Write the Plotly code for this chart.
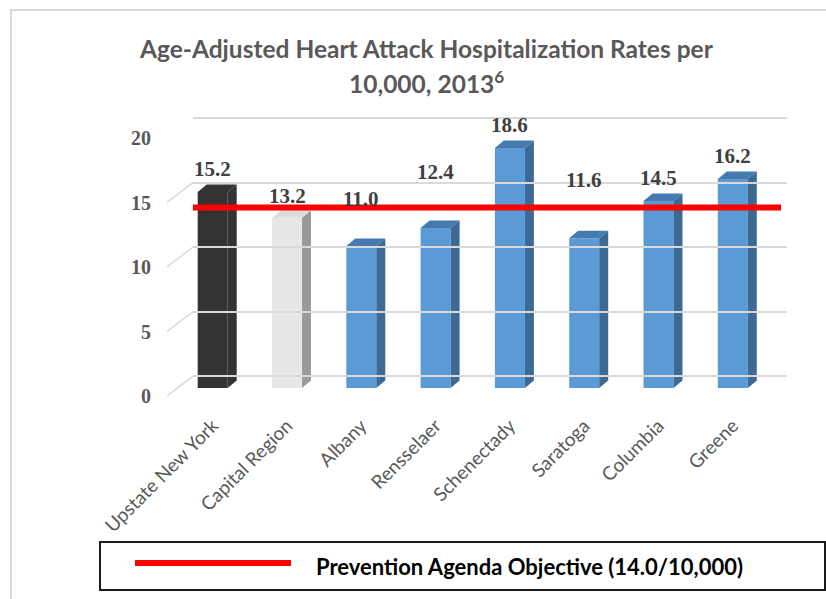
import plotly.graph_objects as go

# ---------------- data ----------------
categories = ["Upstate New York", "Capital Region", "Albany", "Rensselaer",
              "Schenectady", "Saratoga", "Columbia", "Greene"]
rates = [15.2, 13.2, 11.0, 12.4, 18.6, 11.6, 14.5, 16.2]
objective = 14.0
objective_label = "Prevention Agenda Objective (14.0/10,000)"
y_ticks = [0, 5, 10, 15, 20]
title_line1 = "Age-Adjusted Heart Attack Hospitalization Rates per"
title_line2 = "10,000, 2013<sup>6</sup>"

# ---------------- style ----------------
W, H = 826, 599
front_colors = ["#333333", "#e7e7e7"] + ["#5b9bd5"] * 6
side_colors = ["#333333", "#9a9a9a"] + ["#3c6a95"] * 6
top_colors = ["#333333", "#dcdcdc"] + ["#4679ad"] * 6
label_lift_px = [23, 22, 47, 56, 23, 58, 23, 23]   # manual label placement above bars

PX_PER_UNIT = 12.9
CAT_PX = 74.3
FIRST_CAT_PX = 212.7
BAR_ZERO_PX = 388
BACK_ZERO_PX = 376
FRONT_ZERO_PX = 396
BAR_W = 30 / CAT_PX
DX = 9 / CAT_PX
DY = 7.5 / PX_PER_UNIT
YMAX = 20
GRID_PAD = 0.6


def xf(px):
    return px / W


def ydom(zero_px, r0=0.0, r1=YMAX):
    bottom = zero_px - r0 * PX_PER_UNIT
    top = zero_px - r1 * PX_PER_UNIT
    return [1 - bottom / H, 1 - top / H]


fig = go.Figure()

# invisible anchor so that the back-wall subplot exists
fig.add_trace(go.Scatter(x=[0.5], y=[10], mode="markers", opacity=0,
                         xaxis="x2", yaxis="y2", hoverinfo="skip", showlegend=False))

# slanted side grid segments from front tick to back wall
depth_units = (FRONT_ZERO_PX - BACK_ZERO_PX) / PX_PER_UNIT
sx, sy = [], []
for t in y_ticks:
    sx += [0, 1, None]
    sy += [t, t + depth_units, None]
fig.add_trace(go.Scatter(
    x=sx, y=sy, mode="lines", line=dict(color="#d9d9d9", width=1.5),
    xaxis="x3", yaxis="y3", hoverinfo="skip", showlegend=False))

# front faces
fig.add_trace(go.Bar(
    x=list(range(len(categories))), y=rates, width=BAR_W,
    marker=dict(color=front_colors, line=dict(width=0)),
    xaxis="x", yaxis="y", hoverinfo="skip", showlegend=False))

# side and top faces (3-D look)
for i, v in enumerate(rates):
    xl, xr = i - BAR_W / 2, i + BAR_W / 2
    fig.add_trace(go.Scatter(
        x=[xr, xr + DX, xr + DX, xr, xr], y=[0, DY, v + DY, v, 0],
        fill="toself", fillcolor=side_colors[i], mode="lines",
        line=dict(width=0, color=side_colors[i]),
        xaxis="x", yaxis="y", hoverinfo="skip", showlegend=False))
    fig.add_trace(go.Scatter(
        x=[xl, xl + DX, xr + DX, xr, xl], y=[v, v + DY, v + DY, v, v],
        fill="toself", fillcolor=top_colors[i], mode="lines",
        line=dict(width=0, color=top_colors[i]),
        xaxis="x", yaxis="y", hoverinfo="skip", showlegend=False))

# objective line (across the back wall width, on the bar value scale)
fig.add_trace(go.Scatter(
    x=[0, 0.99], y=[objective, objective], mode="lines",
    line=dict(color="#ff0000", width=6),
    xaxis="x2", yaxis="y", hoverinfo="skip", showlegend=False))

# value labels
for i, v in enumerate(rates):
    fig.add_annotation(
        x=i, y=v, xref="x", yref="y", text=f"<b>{v:.1f}</b>", showarrow=False,
        yanchor="middle", yshift=label_lift_px[i],
        font=dict(family="Liberation Serif", size=21, color="#404040"))

hidden_x = dict(showgrid=False, zeroline=False, showline=False,
                showticklabels=False, ticks="", range=[0, 1], fixedrange=True,
                automargin=False)

n = len(categories)
fig.update_layout(
    width=W, height=H, margin=dict(l=0, r=0, t=0, b=0, pad=0, autoexpand=False),
    paper_bgcolor="white", plot_bgcolor="rgba(0,0,0,0)",
    showlegend=False,
    xaxis=dict(domain=[0, 1], range=[-FIRST_CAT_PX / CAT_PX, (W - FIRST_CAT_PX) / CAT_PX],
               tickmode="array", tickvals=list(range(n)), ticktext=categories,
               tickangle=-45, showgrid=False, zeroline=False, showline=False,
               ticks="", ticklabelstandoff=22, anchor="y", automargin=False,
               tickfont=dict(family="Lato", size=19, color="#595959")),
    yaxis=dict(domain=ydom(BAR_ZERO_PX), range=[0, YMAX], visible=False,
               anchor="x", automargin=False),
    xaxis2=dict(domain=[xf(193), xf(787)], anchor="y2", **hidden_x),
    yaxis2=dict(domain=ydom(BACK_ZERO_PX, -GRID_PAD, YMAX + GRID_PAD),
                range=[-GRID_PAD, YMAX + GRID_PAD], tickmode="array", tickvals=y_ticks,
                showgrid=True, gridcolor="#d9d9d9", gridwidth=1.5,
                zeroline=False, showline=False, showticklabels=False,
                ticks="", anchor="x2", automargin=False),
    xaxis3=dict(domain=[xf(167), xf(193)], anchor="y3", **hidden_x),
    yaxis3=dict(domain=ydom(FRONT_ZERO_PX), range=[0, YMAX], tickmode="array",
                tickvals=y_ticks, ticktext=[f"<b>{t}</b>" for t in y_ticks],
                showgrid=False, zeroline=False, showline=False, ticks="",
                anchor="free", position=xf(151), side="left", automargin=False,
                tickfont=dict(family="Liberation Serif", size=20, color="#595959")),
)

# title
for txt, ypx in [(title_line1, 48), (title_line2, 82)]:
    fig.add_annotation(x=xf(426), y=1 - ypx / H, xref="paper", yref="paper",
                       text=f"<b>{txt}</b>", showarrow=False,
                       font=dict(family="Lato", size=24.5, color="#595959"),
                       xanchor="center", yanchor="middle")

# outer chart border (left and top edges visible)
fig.add_shape(type="path", xref="paper", yref="paper",
              path=f"M {xf(11)} 0 L {xf(11)} {1 - 10 / H} L 1 {1 - 10 / H}",
              line=dict(color="#d9d9d9", width=2))

# legend box
fig.add_shape(type="rect", xref="paper", yref="paper",
              x0=xf(100), x1=xf(825), y0=1 - 590 / H, y1=1 - 542 / H,
              line=dict(color="#1a1a1a", width=2), fillcolor="white")
fig.add_shape(type="line", xref="paper", yref="paper",
              x0=xf(135), x1=xf(291), y0=1 - 563 / H, y1=1 - 563 / H,
              line=dict(color="#ff0000", width=6))
fig.add_annotation(x=xf(314), y=1 - 566 / H, xref="paper", yref="paper",
                   text=f"<b>{objective_label}</b>", showarrow=False,
                   xanchor="left", yanchor="middle",
                   font=dict(family="Lato", size=22, color="#000000"))

fig.write_html("out.html", config={"displayModeBar": False},
               post_script="document.body.style.margin='0';")
